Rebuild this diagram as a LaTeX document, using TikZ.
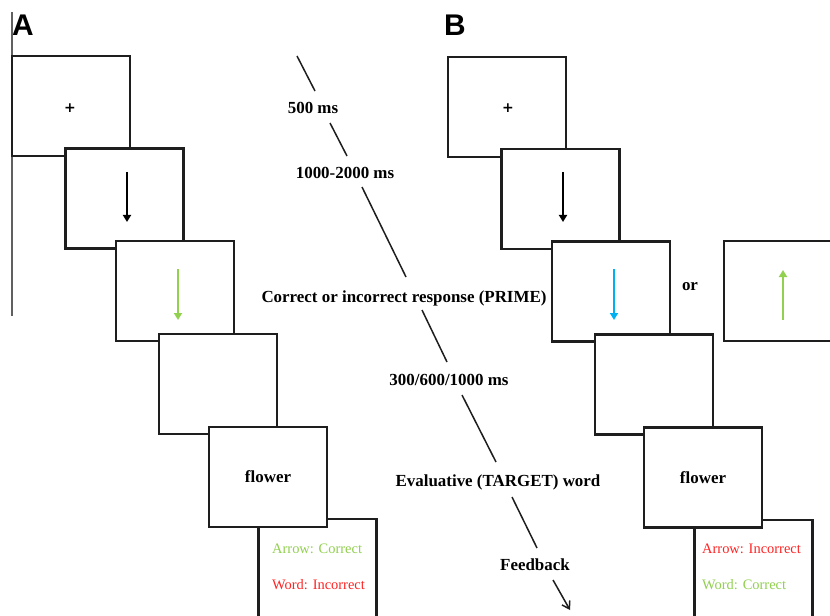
\documentclass[tikz,border=0pt]{standalone}
\usepackage{fontspec}
\setmainfont{Liberation Serif}
\newfontfamily\labelfont{Liberation Sans}
\newfontfamily\plusface{DejaVu Sans}
\usetikzlibrary{arrows.meta}
\definecolor{lgreen}{HTML}{92D050}
\definecolor{lblue}{HTML}{00B0F0}
\definecolor{lred}{HTML}{FF2424}
\definecolor{frame}{HTML}{1E1E1E}
\begin{document}
\begin{tikzpicture}[x=1bp,y=-1bp,
  screen/.style={draw=frame, line width=2.2bp, fill=white, minimum width=118bp, minimum height=100bp, inner sep=0pt, outer sep=0pt, font=\fontsize{17}{20}\selectfont\bfseries},
  steplabel/.style={font=\fontsize{17}{20}\selectfont\bfseries, inner sep=0pt, anchor=base},
  fb/.style={font=\fontsize{14.5}{17}\selectfont, inner sep=0pt, anchor=base west},
  stim/.style={line width=2.4bp, -{Triangle[length=7bp,width=8bp]}},
  tline/.style={line width=1.5bp, draw=frame},
  panel/.style={font=\labelfont\fontsize{30}{34}\selectfont\bfseries, inner sep=0pt, anchor=base west},
  plusfont/.style={font=\plusface\fontsize{14}{16}\selectfont\bfseries, inner sep=0pt}
]
\clip (0,0) rectangle (830,616);
\fill[white] (0,0) rectangle (830,616);

% panel labels
\node[panel] (la) at (12,36) {A};
\node[panel] (lb) at (444,36) {B};
\coordinate (g0) at (12,12);
\coordinate (g1) at (12,316);
\draw[gray!75!black, line width=1.5bp] (g0) -- (g1);

% ---------- Panel A ----------
\node[screen] (a1) at (71,106) {};
\node[plusfont] (pa) at (70,108) {+};
\node[screen] (a2) at (124.5,198.5) {};
\draw[stim, black] (127,172) -- (127,222);
\node[screen] (a3) at (175,291) {};
\draw[stim, lgreen] (178,269) -- (178,320);
\node[screen] (a4) at (218,384) {};
\node[screen] (a6) at (317.5,569) {};
\node[fb, text=lgreen] (a6t1) at (272,553) {Arrow: Correct};
\node[fb, text=lred] (a6t2) at (272,589) {Word: Incorrect};
\node[screen] (a5) at (268,477) {flower};

% ---------- Panel B ----------
\node[screen] (b1) at (507,107) {};
\node[plusfont] (pb) at (508,108) {+};
\node[screen] (b2) at (560.5,199) {};
\draw[stim, black] (563,172) -- (563,222);
\node[screen] (b3) at (611,291.5) {};
\draw[stim, lblue] (614,269) -- (614,320);
\node[screen] (bx) at (783,291) {};
\draw[stim, lgreen] (783,320) -- (783,270);
\node[steplabel] (or) at (690,290) {or};
\node[screen] (b4) at (654,384.5) {};
\node[screen] (b6) at (753.5,570) {};
\node[fb, text=lred] (b6t1) at (702,553) {Arrow: Incorrect};
\node[fb, text=lgreen] (b6t2) at (702,589) {Word: Correct};
\node[screen] (b5) at (703,477.5) {flower};

% ---------- timeline ----------
\node[steplabel] (s1) at (313,114) {500 ms};
\node[steplabel] (s2) at (345,179) {1000-2000 ms};
\node[steplabel] (s3) at (404,302) {Correct or incorrect response (PRIME)};
\node[steplabel] (s4) at (449,385) {300/600/1000 ms};
\node[steplabel] (s5) at (498,486) {Evaluative (TARGET) word};
\node[steplabel] (s6) at (535,570) {Feedback};

\coordinate (t0) at (297,56);
\coordinate (t1) at (315,91);
\coordinate (t2) at (330,123);
\coordinate (t3) at (347,156);
\coordinate (t4) at (362,187);
\coordinate (t5) at (406,277);
\coordinate (t6) at (422,310);
\coordinate (t7) at (447,362);
\coordinate (t8) at (462,395);
\coordinate (t9) at (496,462);
\coordinate (t10) at (512,497);
\coordinate (t11) at (537,548);
\coordinate (t12) at (553,580);
\coordinate (t13) at (570,610);
\draw[tline] (t0) -- (t1);
\draw[tline] (t2) -- (t3);
\draw[tline] (t4) -- (t5);
\draw[tline] (t6) -- (t7);
\draw[tline] (t8) -- (t9);
\draw[tline] (t10) -- (t11);
\draw[tline, -{Straight Barb[length=7bp,width=9bp]}] (t12) -- (t13);
\end{tikzpicture}
\end{document}
